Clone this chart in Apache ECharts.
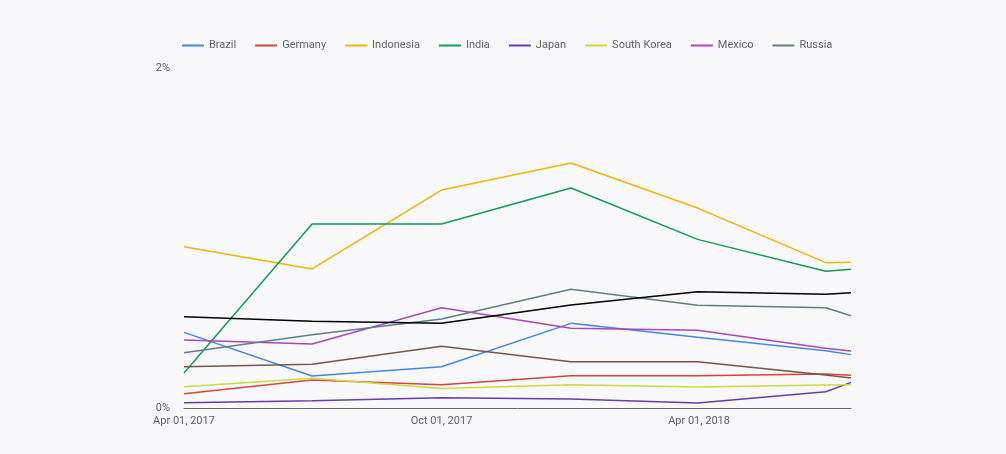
<!DOCTYPE html>
<html>
<head>
<meta charset="utf-8">
<script src="https://cdn.jsdelivr.net/npm/echarts@6/dist/echarts.min.js"></script>
<style>html,body{margin:0;padding:0;background:#f9f9fb;}#c{width:1006px;height:454px;}</style>
</head>
<body>
<div id="c"></div>
<script>
// Dates (UTC) of the data points
var dates = ['2017-04-01','2017-07-01','2017-10-01','2018-01-01','2018-04-01','2018-07-01','2018-07-19'];
var xTickLabels = ['Apr 01, 2017','Oct 01, 2017','Apr 01, 2018'];
var yTickLabels = ['0%','2%'];

var seriesNames = ['Brazil','Germany','Indonesia','India','Japan','South Korea','Mexico','Russia','Series 9','Series 10'];
var legendNames = ['Brazil','Germany','Indonesia','India','Japan','South Korea','Mexico','Russia'];

var brazil     = [0.445, 0.188, 0.243, 0.498, 0.416, 0.337, 0.314];
var germany    = [0.084, 0.165, 0.137, 0.190, 0.190, 0.200, 0.192];
var indonesia  = [0.949, 0.818, 1.282, 1.441, 1.176, 0.855, 0.857];
var india      = [0.206, 1.082, 1.082, 1.294, 0.992, 0.804, 0.816];
var japan      = [0.031, 0.043, 0.061, 0.053, 0.029, 0.096, 0.151];
var southKorea = [0.125, 0.175, 0.114, 0.137, 0.124, 0.135, 0.137];
var mexico     = [0.400, 0.376, 0.590, 0.469, 0.457, 0.351, 0.335];
var russia     = [0.325, 0.431, 0.524, 0.698, 0.604, 0.590, 0.543];
var series9    = [0.537, 0.510, 0.498, 0.606, 0.684, 0.669, 0.678];
var series10   = [0.243, 0.257, 0.363, 0.272, 0.272, 0.194, 0.176];

var seriesValues = [brazil, germany, indonesia, india, japan, southKorea, mexico, russia, series9, series10];
var colors = ['#4285f4','#db4437','#f4b400','#0f9d58','#673ab7','#cddc39','#ab47bc','#607d8b','#000000','#795548'];

function ts(s){ var p = s.split('-'); return Date.UTC(+p[0], +p[1]-1, +p[2]); }
var xs = dates.map(ts);
var DAY = 86400000;
var xMin = xs[0], xMax = xs[xs.length-1], xInterval = 183*DAY;

var chart = echarts.init(document.getElementById('c'));
chart.setOption({
  backgroundColor: '#f9f9fb',
  animation: false,
  color: colors,
  legend: {
    data: legendNames,
    top: 35,
    left: 177,
    icon: 'rect',
    itemWidth: 22,
    itemHeight: 2,
    itemGap: 19,
    textStyle: { color: '#5f6368', fontSize: 11, fontFamily: 'Roboto' }
  },
  grid: { left: 184, right: 155, top: 68, bottom: 46, containLabel: false },
  xAxis: {
    type: 'value',
    min: xMin, max: xMax, interval: xInterval,
    splitLine: { show: false },
    axisTick: { show: false },
    axisLine: { lineStyle: { color: '#666666', width: 1 } },
    axisLabel: {
      color: '#616161', fontSize: 11, fontFamily: 'Roboto', margin: 8, showMaxLabel: false,
      formatter: function(v){
        var r = (v - xMin) / xInterval;
        var i = Math.round(r);
        if (Math.abs(r - i) > 0.01) return '';
        return xTickLabels[i] || '';
      }
    }
  },
  yAxis: {
    type: 'value', min: 0, max: 2, interval: 2,
    splitLine: { show: false },
    axisLine: { show: false },
    axisTick: { show: false },
    axisLabel: {
      color: '#616161', fontSize: 11, fontFamily: 'Roboto', margin: 14,
      formatter: function(v){ var i = Math.round(v/2); return yTickLabels[i] || ''; }
    }
  },
  series: seriesNames.map(function(n, k){
    return {
      name: n, type: 'line', symbol: 'none',
      lineStyle: { width: 1.5, color: colors[k] },
      itemStyle: { color: colors[k] },
      data: xs.map(function(x, j){ return [x, seriesValues[k][j]]; })
    };
  })
});
</script>
</body>
</html>
